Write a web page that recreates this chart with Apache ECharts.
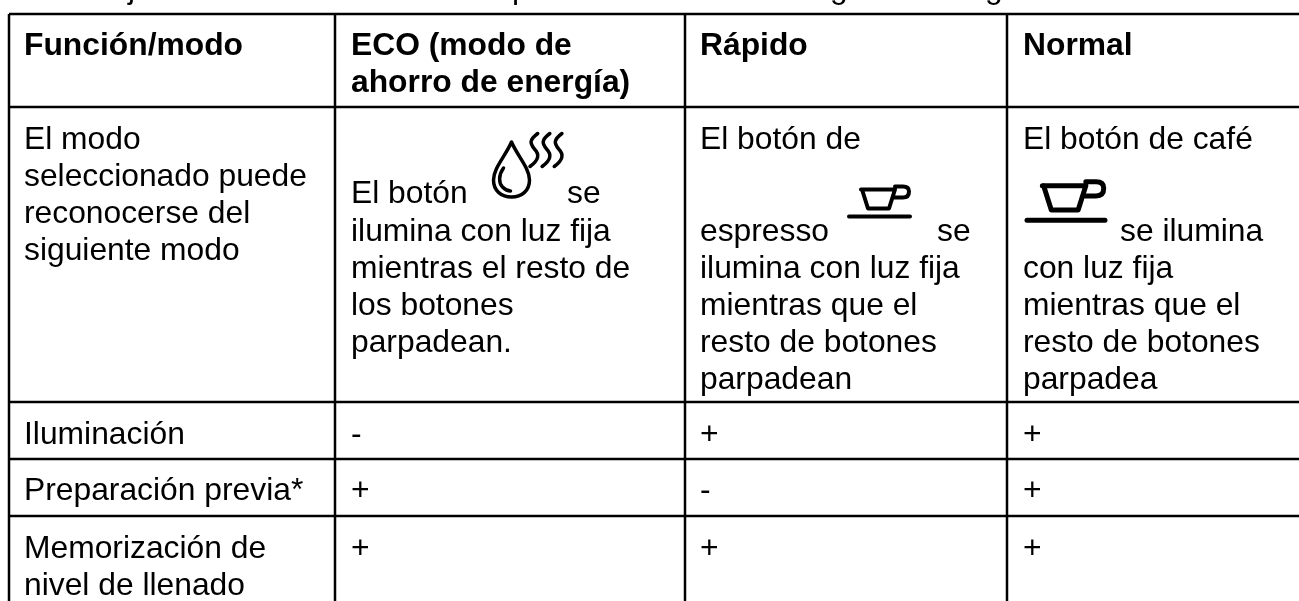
<!DOCTYPE html>
<html>
<head>
<meta charset="utf-8">
<title>Función/modo</title>
<style>
  html, body { margin: 0; padding: 0; background: #fff; }
  #main { width: 1299px; height: 601px; }
</style>
<script src="https://cdn.jsdelivr.net/npm/echarts@6/dist/echarts.min.js"></script>
</head>
<body>
<div id="main"></div>
<script>
// table content
const headers = [['Función/modo'], ['ECO (modo de', 'ahorro de energía)'], ['Rápido'], ['Normal']]
const firstColumn = [
  ['El modo', 'seleccionado puede', 'reconocerse del', 'siguiente modo'],
  ['Iluminación'],
  ['Preparación previa*'],
  ['Memorización de', 'nivel de llenado']
]
const ecoColumn = ['-', '+', '+']
const rapidoColumn = ['+', '-', '+']
const normalColumn = ['+', '+', '+']
const ecoText = ['ilumina con luz fija', 'mientras el resto de', 'los botones', 'parpadean.']
const rapidoText = ['ilumina con luz fija', 'mientras que el', 'resto de botones', 'parpadean']
const normalText = ['con luz fija', 'mientras que el', 'resto de botones', 'parpadea']
// descenders of the line cut off by the top edge
const cutOffLetters = ['j', 'p', 'g', 'g']

// layout
const colLines = [9, 335, 685, 1007]
const rowLines = [14, 107, 402, 459, 516]
const textX = [24, 351, 700, 1023]
const cutOffX = [128, 512, 830, 985]
const lineGap = 37
const fontFamily = 'Liberation Sans'
const fontSize = 31.8

const dropPath = 'M18 0 C12 14 0 26 0 38 C0 49 8 55 18 55 C28 55 36 49 36 38 C36 26 24 14 18 0 Z M10 26 C5 33 5 41 9 45 C11 47 14 49 17 49'
const wavePath = 'M8 0 C0 6 1 9 5 14 C10 19 9 24 1 30 M19 0 C11 6 12 9 16 14 C21 19 20 24 12 30 M30 0 C22 6 23 9 27 14 C32 19 31 24 23 30'
const cupPath = 'M12 5 L46 5 M13 5 L19 24 L40 24 L46 5 M46 2 L54 2 Q60 2 60 7 Q60 13 54 13 L44 13 M0 32 L61 32'

const icons = [
  { pathData: dropPath, box: [493, 142, 37, 55], lineWidth: 3.5 },
  { pathData: wavePath, box: [530, 133, 32, 34], lineWidth: 3.5 },
  { pathData: cupPath, box: [849, 186, 61, 31], lineWidth: 4 },
  { pathData: cupPath, box: [1027, 181, 78, 40], lineWidth: 5 }
]

const elements = []

function addLine (x1, y1, x2, y2) {
  elements.push({
    type: 'line',
    shape: { x1, y1, x2, y2 },
    style: { stroke: '#000', lineWidth: 2.5 },
    silent: true
  })
}

function addText (text, x, y, bold) {
  elements.push({
    type: 'text',
    x,
    y,
    style: {
      text,
      fill: '#000',
      fontFamily,
      fontSize,
      fontWeight: bold ? 'bold' : 'normal',
      align: 'left',
      verticalAlign: 'middle'
    },
    silent: true
  })
}

function addCell (lines, x, y, bold) {
  lines.forEach((line, i) => addText(line, x, y + i * lineGap, bold))
}

colLines.forEach(x => addLine(x, 14, x, 601))
rowLines.forEach(y => addLine(9, y, 1299, y))

cutOffLetters.forEach((letter, i) => addText(letter, cutOffX[i], -11, false))

headers.forEach((cell, i) => addCell(cell, textX[i], 46, true))

const bodyRows = [140, 435, 491, 549]
bodyRows.forEach((y, r) => addCell(firstColumn[r], textX[0], y, false))

addText('El botón', textX[1], 194, false)
addText('se', 567, 194, false)
addCell(ecoText, textX[1], 232, false)

addText('El botón de', textX[2], 140, false)
addText('espresso', textX[2], 232, false)
addText('se', 937, 232, false)
addCell(rapidoText, textX[2], 269, false)

addText('El botón de café', textX[3], 140, false)
addText('se ilumina', 1120, 232, false)
addCell(normalText, textX[3], 269, false)

;[ecoColumn, rapidoColumn, normalColumn].forEach((col, c) => {
  col.forEach((mark, r) => addText(mark, textX[c + 1], bodyRows[r + 1], false))
})

const chart = echarts.init(document.getElementById('main'))
chart.setOption({
  animation: false,
  backgroundColor: '#fff',
  graphic: { elements },
  series: [{
    type: 'custom',
    coordinateSystem: 'none',
    silent: true,
    data: icons.map((icon, i) => i),
    renderItem: (params) => {
      const icon = icons[params.dataIndex]
      return {
        type: 'path',
        shape: {
          pathData: icon.pathData,
          layout: 'center',
          x: icon.box[0],
          y: icon.box[1],
          width: icon.box[2],
          height: icon.box[3]
        },
        style: { stroke: '#000', fill: null, lineWidth: icon.lineWidth, lineCap: 'round', lineJoin: 'round' }
      }
    }
  }]
})
</script>
</body>
</html>
